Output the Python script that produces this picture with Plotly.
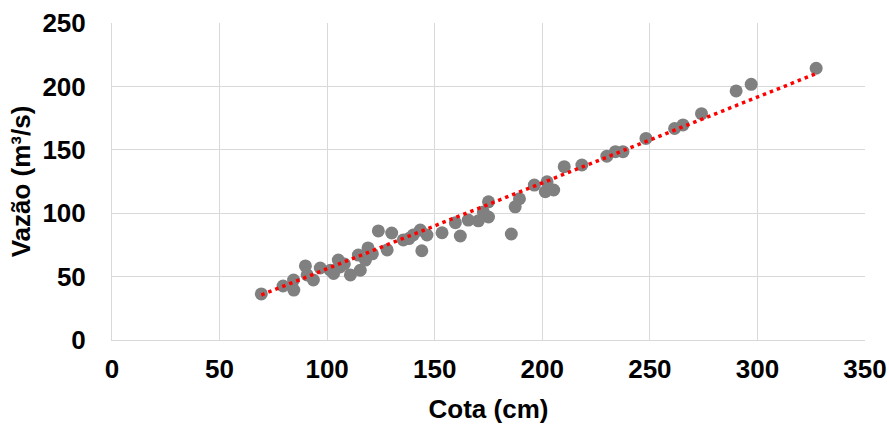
import plotly.graph_objects as go

cota = [69.4, 79.5, 84.5, 84.4, 89.9, 90.7, 93.6, 96.8, 101.5, 103.0, 105.2, 106.0,
        108.0, 110.8, 114.5, 115.4, 117.8, 119.0, 121.0, 123.8, 127.9, 130.0, 135.4,
        138.0, 140.0, 143.3, 144.0, 146.4, 153.4, 159.6, 161.9, 165.6, 170.3, 172.6,
        175.0, 175.0, 185.6, 187.4, 189.4, 196.3, 201.4, 202.2, 205.3, 210.2, 218.4,
        230.0, 234.0, 237.5, 248.2, 261.5, 265.4, 274.0, 290.1, 297.1, 327.3]
vazao = [36.3, 42.6, 39.4, 47.3, 58.4, 51.3, 47.3, 56.8, 55.0, 52.5, 63.0, 57.6,
         60.0, 51.3, 67.0, 55.0, 63.0, 72.6, 68.0, 86.0, 71.0, 84.4, 78.9,
         80.0, 82.8, 86.7, 70.4, 82.8, 84.6, 92.5, 82.0, 94.6, 94.0, 101.0,
         109.0, 97.0, 83.6, 105.0, 111.4, 122.2, 117.0, 124.8, 118.3, 136.7, 138.0,
         145.0, 148.5, 148.5, 159.0, 166.8, 169.6, 178.5, 196.4, 201.6, 214.3]

# linear trendline
trend_slope = 0.677
trend_intercept = -11.5

x_ticks = [0, 50, 100, 150, 200, 250, 300, 350]
y_ticks = [0, 50, 100, 150, 200, 250]

tx = [min(cota), max(cota)]
ty = [trend_slope * v + trend_intercept for v in tx]

fig = go.Figure()
fig.add_trace(go.Scatter(x=cota, y=vazao, mode="markers",
                         marker=dict(color="#808080", size=13, line=dict(width=0)),
                         showlegend=False, cliponaxis=False))
fig.add_trace(go.Scatter(x=tx, y=ty, mode="lines",
                         line=dict(color="#ff0000", width=3.5, dash="3.5px,4px"),
                         showlegend=False))

font = "Liberation Sans, Arial, sans-serif"
fig.update_layout(
    width=889, height=426,
    margin=dict(l=112, r=24, t=23, b=86),
    paper_bgcolor="white", plot_bgcolor="white",
    font=dict(family=font, color="#000000"),
    xaxis=dict(range=[0, 350], tickvals=x_ticks, ticktext=[f"<b>{v}</b>" for v in x_ticks],
               showgrid=True, gridcolor="#d9d9d9", gridwidth=1,
               showline=True, linecolor="#d9d9d9", linewidth=1, mirror=False,
               zeroline=False, ticks="", ticklabelstandoff=6, automargin=False,
               tickfont=dict(size=26, family=font),
               title=dict(text="<b>Cota (cm)</b>", font=dict(size=26, family=font), standoff=16)),
    yaxis=dict(range=[0, 250], tickvals=y_ticks, ticktext=[f"<b>{v}</b>" for v in y_ticks],
               showgrid=True, gridcolor="#d9d9d9", gridwidth=1,
               showline=True, linecolor="#d9d9d9", linewidth=1,
               zeroline=False, ticks="", ticklabelstandoff=20, automargin=False,
               tickfont=dict(size=26, family=font),
               title=dict(text="<b>Vazão (m³/s)</b>", font=dict(size=26, family=font), standoff=4)),
)

fig.write_html("out.html")
